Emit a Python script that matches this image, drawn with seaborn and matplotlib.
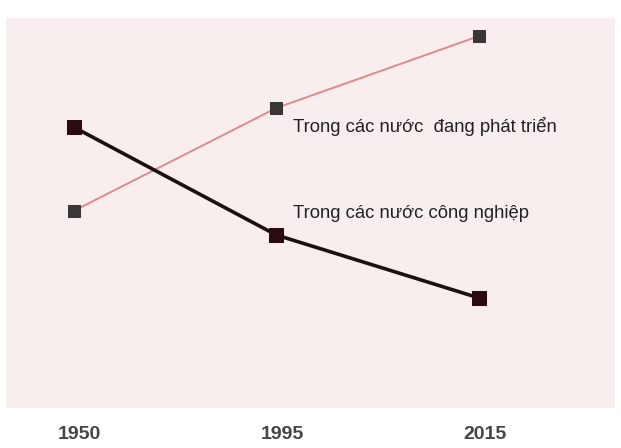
import numpy as np
import pandas as pd
import matplotlib
matplotlib.use("Agg")
import matplotlib.pyplot as plt
import matplotlib.transforms as mtransforms
import seaborn as sns

# -------------------------
# Data (arbitrary index units)
# -------------------------
years = ["1950", "1995", "2015"]
developing = [197, 300, 372]   # Trong các nước đang phát triển
industrial = [281, 173, 110]   # Trong các nước công nghiệp

label_dev = "Trong các nước  đang phát triển"
label_ind = "Trong các nước công nghiệp"

df = pd.DataFrame({
    "pos": list(range(len(years))) * 2,
    "value": developing + industrial,
    "series": ["dev"] * len(years) + ["ind"] * len(years),
})

sns.set_theme(style="white")
plt.rcParams["font.family"] = ["Liberation Sans", "DejaVu Sans"]

fig = plt.figure(figsize=(6.21, 4.48), dpi=100)
ax = fig.add_axes([6 / 621, 1 - 408 / 448, 609 / 621, 390 / 448])
ax.set_facecolor("#f8eeee")

# developing countries: thin salmon line, grey squares
sns.lineplot(data=df[df.series == "dev"], x="pos", y="value", ax=ax,
             color="#e28a8a", linewidth=1.4, marker="s", markersize=9,
             markerfacecolor="#3a3636", markeredgecolor="#3a3636", zorder=2)
# industrial countries: thick near-black line, dark squares
sns.lineplot(data=df[df.series == "ind"], x="pos", y="value", ax=ax,
             color="#1c1010", linewidth=2.6, marker="s", markersize=10,
             markerfacecolor="#2a0c10", markeredgecolor="#2a0c10", zorder=3)

ax.set_xlim(-0.333, 2.67)
ax.set_ylim(0, 390)

ax.annotate(label_dev, xy=(1, developing[1]), xytext=(17, -18),
            textcoords="offset pixels", fontsize=13.3, color="#222222",
            ha="left", va="center")
ax.annotate(label_ind, xy=(1, industrial[1]), xytext=(17, 21),
            textcoords="offset pixels", fontsize=13.3, color="#222222",
            ha="left", va="center")

ax.set_xticks(range(len(years)))
ax.set_xticklabels(years, fontsize=14, fontweight="bold", color="#454545")
ax.tick_params(axis="x", length=0, pad=13)
# labels sit a little right of the markers in the original
shift = mtransforms.ScaledTranslation(6 / 100, 0, fig.dpi_scale_trans)
for lbl in ax.get_xticklabels():
    lbl.set_transform(lbl.get_transform() + shift)
ax.set_yticks([])
ax.set_xlabel("")
ax.set_ylabel("")
for s in ax.spines.values():
    s.set_visible(False)

fig.savefig("out.png", dpi=100, facecolor="white")
